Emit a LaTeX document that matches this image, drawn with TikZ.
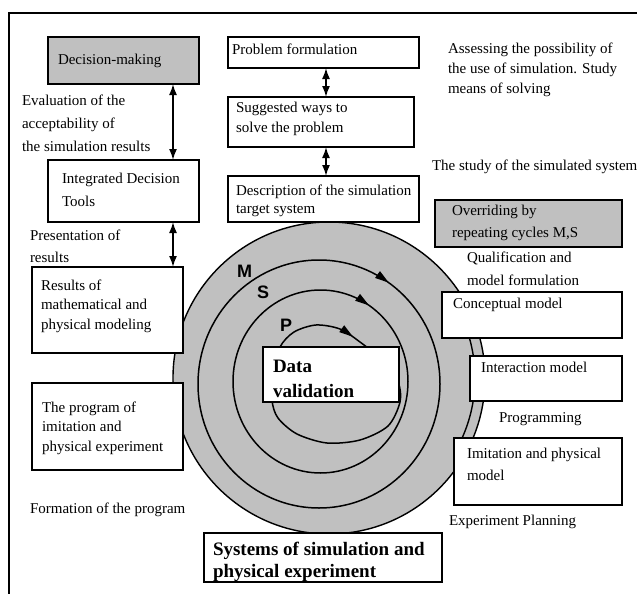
\documentclass[tikz,border=0pt]{standalone}
\usepackage{fontspec}
\setmainfont{Liberation Serif}
\newfontfamily\arialfont{Liberation Sans}
\usetikzlibrary{arrows.meta,fit,decorations.markings}
\definecolor{diskgray}{RGB}{192,192,192}
\definecolor{boxgray}{RGB}{192,192,192}
\tikzset{ringtip/.tip={Triangle[length=14pt,width=8pt]}}
\begin{document}
\begin{tikzpicture}[x=1pt,y=-1pt,
  box/.style={draw=black, line width=1.7pt, fill=white, inner sep=0pt, outer sep=0pt},
  gbox/.style={box, fill=boxgray},
  txt/.style={anchor=base west, align=left, inner sep=0pt, outer sep=0pt},
  rf/.style={font=\fontsize{15}{#1}\selectfont},
  bf/.style={font=\fontsize{19}{#1}\selectfont\bfseries},
  lab/.style={anchor=base west, inner sep=0pt, font=\fontsize{18}{18}\selectfont\arialfont\bfseries},
  dbl/.style={{Latex[length=11pt,width=8pt]}-{Latex[length=11pt,width=8pt]}, line width=1.7pt},
  ring/.style={line width=1.5pt}
]
\useasboundingbox (0,0) rectangle (637,594);
\fill[white] (0,0) rectangle (637,594);

% frame
\draw[line width=2pt] (637,13) -- (9,13) -- (9,594);

% disk
\filldraw[fill=diskgray, line width=1.4pt] (329,378) circle[radius=156];
\draw[line width=1.4pt] (329,378) ++(28:146) arc[start angle=28, end angle=-22, radius=146];

% cycles M, S, P
\draw[ring, decoration={markings, mark=at position 0.847 with {\arrow{ringtip}}}, postaction=decorate]
  (319,384) ellipse[x radius=121, y radius=124];
\draw[ring, decoration={markings, mark=at position 0.842 with {\arrow{ringtip}}}, postaction=decorate]
  (320.5,381.5) ellipse[x radius=87.5, y radius=91.5];
\draw[ring, decoration={markings, mark=at position 63pt with {\arrow{ringtip}}}, postaction=decorate]
  plot[smooth cycle] coordinates {(280,347) (294,332) (316,325) (340,329) (360,342) (382,360) (398,382) (400,402) (388,426) (360,440) (327,443) (297,434) (278,418) (272,400) (274,372)};

\node[lab] (lm) at (237,277) {M};
\node[lab] (ls) at (257,298) {S};
\node[lab] (lp) at (280,331) {P};

% boxes
\node[gbox, fit={(48,37) (199,84)}] (dm) {};
\node[box, fit={(48,160) (199,222)}] (idt) {};
\node[box, fit={(32,267) (183,353)}] (res) {};
\node[box, fit={(32,383) (183,470)}] (prog) {};
\node[box, fit={(228,37) (419,68)}] (pf) {};
\node[box, fit={(228,97) (414,147)}] (sw) {};
\node[box, fit={(228,176) (419,222)}] (desc) {};
\node[gbox, fit={(435,200) (622,247)}] (ovr) {};
\node[box, fit={(442,292) (622,338)}] (con) {};
\node[box, fit={(470,356) (622,401)}] (inter) {};
\node[box, fit={(454,438) (622,505)}] (imi) {};
\node[box, fit={(263,347) (399,402)}] (dv) {};
\node[box, fit={(204,533) (442,582)}] (sys) {};

% double arrows
\coordinate (ax1) at (173,0);
\coordinate (ax2) at (326,0);
\draw[dbl] (dm.south -| ax1) -- (idt.north -| ax1);
\draw[dbl] (idt.south -| ax1) -- (res.north -| ax1);
\draw[dbl] (pf.south -| ax2) -- (sw.north -| ax2);
\draw[dbl] (sw.south -| ax2) -- (desc.north -| ax2);

% texts in boxes (anchor = baseline of last line)
\node[txt, rf=23] (tdm) at (58,64) {Decision-making};
\node[txt, rf=23] (tidt) at (62,206) {Integrated Decision\\Tools};
\node[txt, rf=19.5] (tres) at (41,329) {Results of\\mathematical and\\physical modeling};
\node[txt, rf=19.5] (tprog) at (42,451) {The program of\\imitation and\\physical experiment};
\node[txt, rf=20] (tpf) at (232,55) {Problem formulation};
\node[txt, rf=20] (tsw) at (236,132) {Suggested ways to\\solve the problem};
\node[txt, rf=18] (tdesc) at (236,213) {Description of the simulation\\target system};
\node[txt, rf=22] (tovr) at (452,237) {Overriding by\\repeating cycles M,S};
\node[txt, rf=20] (tcon) at (453,308) {Conceptual model};
\node[txt, rf=20] (tint) at (481,372) {Interaction model};
\node[txt, rf=22] (timi) at (467,480) {Imitation and physical\\model};
\node[txt, bf=25] (tdv) at (273,397) {Data\\validation};
\node[txt, bf=22] (tsys) at (213,577) {Systems of simulation and\\physical experiment};

% free texts
\node[txt, rf=23] (tev) at (22,151) {Evaluation of the\\acceptability of\\the simulation results};
\node[txt, rf=22] (tpres) at (30,262) {Presentation of\\results};
\node[txt, rf=20] (tform) at (30,513) {Formation of the program};
\node[txt, rf=20] (tass) at (448,93) {Assessing the possibility of\\the use of simulation. Study\\means of solving};
\node[txt, rf=20] (tstudy) at (432,170) {The study of the simulated system};
\node[txt, rf=23] (tqual) at (467,285) {Qualification and\\model formulation};
\node[txt, rf=20] (tprg) at (499,422) {Programming};
\node[txt, rf=20] (texp) at (449,525) {Experiment Planning};
\end{tikzpicture}
\end{document}
